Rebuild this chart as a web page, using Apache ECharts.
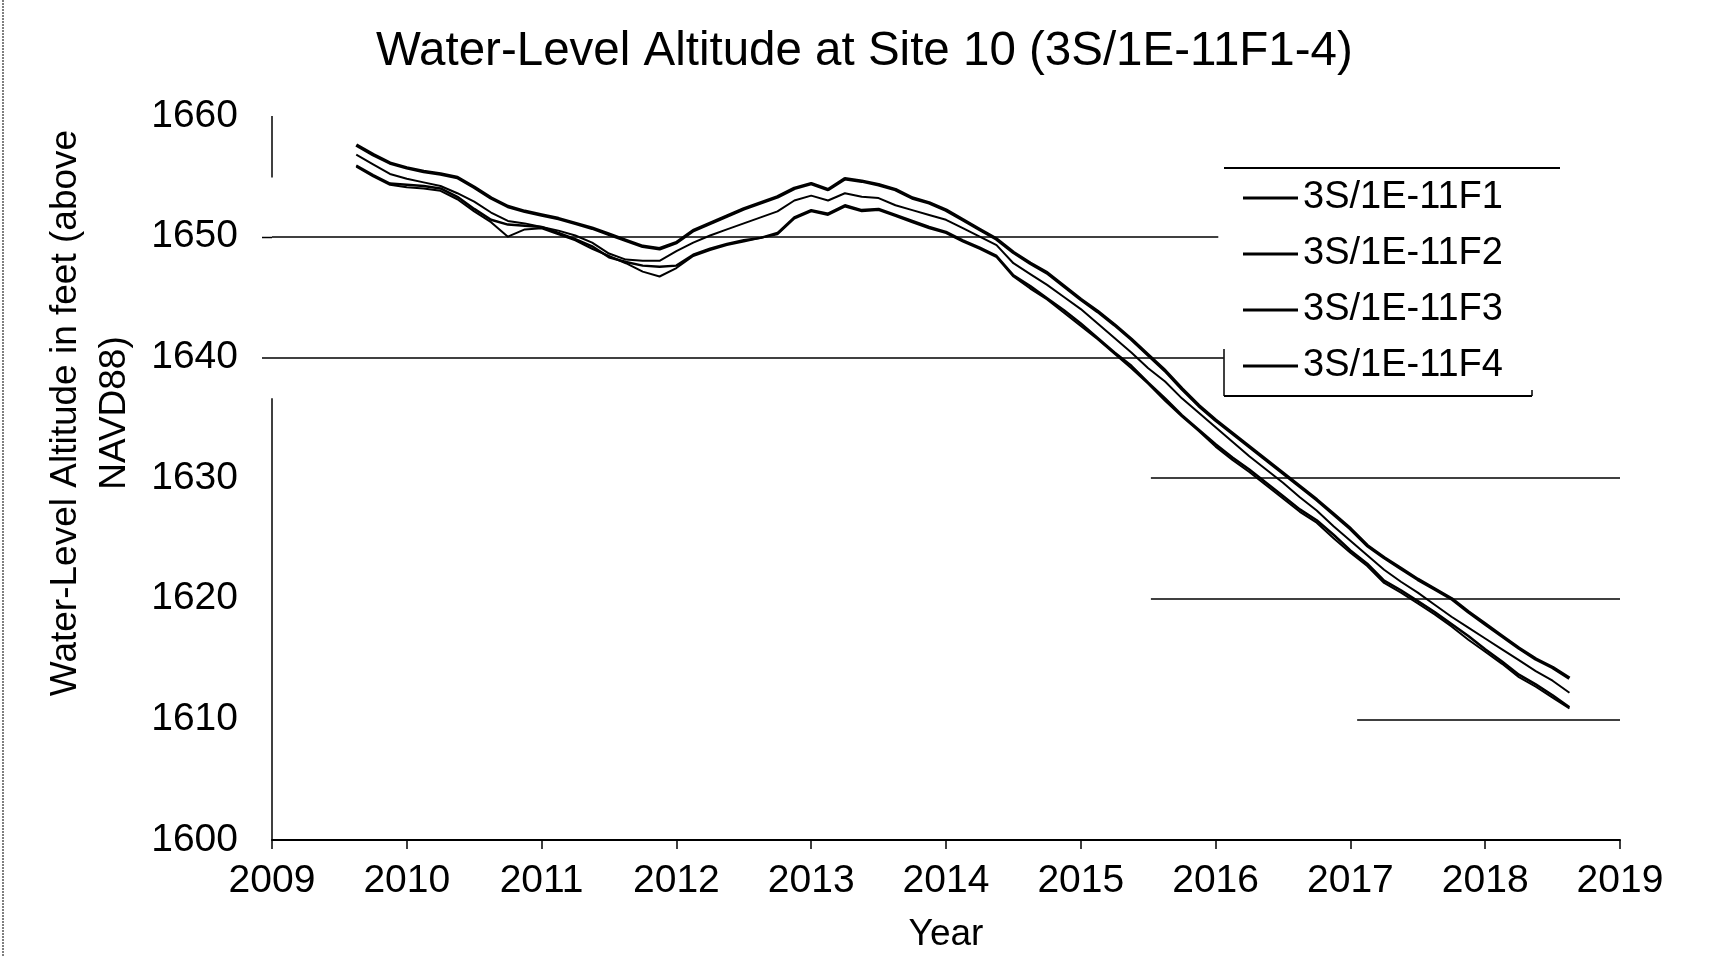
<!DOCTYPE html>
<html>
<head>
<meta charset="utf-8">
<title>Water-Level Altitude at Site 10</title>
<script src="https://cdn.jsdelivr.net/npm/echarts@6.0.0/dist/echarts.min.js"></script>
<style>
    html, body { margin: 0; padding: 0; background: #fff; }
    #chart { width: 1710px; height: 956px; }
</style>
</head>
<body>
<div id="chart"></div>
<script>
// decimal years, one reading every 1.5 months
var years = [2009.625, 2009.75, 2009.875,
    2010.0, 2010.125, 2010.25, 2010.375, 2010.5, 2010.625, 2010.75, 2010.875,
    2011.0, 2011.125, 2011.25, 2011.375, 2011.5, 2011.625, 2011.75, 2011.875,
    2012.0, 2012.125, 2012.25, 2012.375, 2012.5, 2012.625, 2012.75, 2012.875,
    2013.0, 2013.125, 2013.25, 2013.375, 2013.5, 2013.625, 2013.75, 2013.875,
    2014.0, 2014.125, 2014.25, 2014.375, 2014.5, 2014.625, 2014.75, 2014.875,
    2015.0, 2015.125, 2015.25, 2015.375, 2015.5, 2015.625, 2015.75, 2015.875,
    2016.0, 2016.125, 2016.25, 2016.375, 2016.5, 2016.625, 2016.75, 2016.875,
    2017.0, 2017.125, 2017.25, 2017.375, 2017.5, 2017.625, 2017.75, 2017.875,
    2018.0, 2018.125, 2018.25, 2018.375, 2018.5, 2018.625];

var f1 = [1657.6, 1656.8, 1656.1,
    1655.7, 1655.4, 1655.2, 1654.9, 1654.1, 1653.2, 1652.5, 1652.1,
    1651.8, 1651.5, 1651.1, 1650.7, 1650.2, 1649.7, 1649.2, 1649.0,
    1649.5, 1650.5, 1651.1, 1651.7, 1652.3, 1652.8, 1653.3, 1654.0,
    1654.4, 1653.9, 1654.8, 1654.6, 1654.3, 1653.9, 1653.2, 1652.8,
    1652.2, 1651.4, 1650.6, 1649.8, 1648.7, 1647.8, 1647.0, 1645.9,
    1644.8, 1643.8, 1642.7, 1641.5, 1640.2, 1638.9, 1637.4, 1636.0,
    1634.8, 1633.7, 1632.6, 1631.5, 1630.4, 1629.3, 1628.2, 1627.0,
    1625.8, 1624.4, 1623.4, 1622.5, 1621.6, 1620.8, 1620.0, 1618.9,
    1617.9, 1616.9, 1615.9, 1615.0, 1614.3, 1613.4];

var f2 = [1656.8, 1656.0, 1655.2,
    1654.8, 1654.5, 1654.2, 1653.6, 1652.9, 1652.0, 1651.3, 1651.1,
    1650.8, 1650.5, 1650.1, 1649.5, 1648.6, 1648.1, 1648.0, 1648.0,
    1648.8, 1649.5, 1650.1, 1650.6, 1651.1, 1651.6, 1652.1, 1653.0,
    1653.4, 1653.0, 1653.6, 1653.3, 1653.2, 1652.6, 1652.2, 1651.8,
    1651.4, 1650.7, 1650.0, 1649.3, 1647.8, 1646.9, 1646.0, 1645.0,
    1644.0, 1642.8, 1641.6, 1640.4, 1639.1, 1638.0, 1636.6, 1635.4,
    1634.2, 1633.0, 1631.8, 1630.7, 1629.6, 1628.4, 1627.3, 1626.0,
    1624.8, 1623.6, 1622.4, 1621.4, 1620.5, 1619.5, 1618.5, 1617.6,
    1616.7, 1615.8, 1614.9, 1614.0, 1613.2, 1612.2];

var f3 = [1655.9, 1655.1, 1654.4,
    1654.3, 1654.2, 1654.0, 1653.3, 1652.3, 1651.4, 1651.0, 1650.9,
    1650.8, 1650.3, 1649.8, 1649.2, 1648.3, 1647.9, 1647.6, 1647.5,
    1647.6, 1648.5, 1649.0, 1649.4, 1649.7, 1649.9, 1650.3, 1651.6,
    1652.2, 1651.9, 1652.6, 1652.2, 1652.3, 1651.8, 1651.3, 1650.8,
    1650.4, 1649.7, 1649.1, 1648.4, 1646.8, 1645.9, 1644.9, 1643.9,
    1642.8, 1641.6, 1640.4, 1639.3, 1637.9, 1636.6, 1635.2, 1634.0,
    1632.8, 1631.7, 1630.7, 1629.6, 1628.5, 1627.4, 1626.5, 1625.3,
    1624.0, 1622.9, 1621.5, 1620.7, 1619.8, 1618.9, 1617.9, 1616.9,
    1615.8, 1614.8, 1613.7, 1612.9, 1612.0, 1611.0];

var f4 = [1655.8, 1655.0, 1654.3,
    1654.1, 1654.0, 1653.8, 1653.1, 1652.1, 1651.2, 1650.0, 1650.6,
    1650.7, 1650.2, 1649.7, 1649.0, 1648.4, 1647.8, 1647.1, 1646.7,
    1647.4, 1648.4, 1648.9, 1649.3, 1649.6, 1649.9, 1650.2, 1651.5,
    1652.1, 1651.8, 1652.5, 1652.1, 1652.2, 1651.7, 1651.2, 1650.7,
    1650.3, 1649.6, 1649.0, 1648.3, 1646.7, 1645.7, 1644.8, 1643.7,
    1642.6, 1641.5, 1640.3, 1639.1, 1637.8, 1636.4, 1635.1, 1633.9,
    1632.6, 1631.5, 1630.5, 1629.4, 1628.3, 1627.2, 1626.3, 1625.0,
    1623.8, 1622.7, 1621.3, 1620.5, 1619.6, 1618.7, 1617.7, 1616.6,
    1615.6, 1614.6, 1613.5, 1612.7, 1611.8, 1610.9];

var seriesNames = ['3S/1E-11F1', '3S/1E-11F2', '3S/1E-11F3', '3S/1E-11F4'];
var seriesValues = [f1, f2, f3, f4];

// gridlines only survive in pieces on the scan: [value, fromYear, toYear]
var gridRuns = [
    [1650, 2009, 2016.02],
    [1640, 2009, 2016.06],
    [1630, 2015.52, 2019],
    [1620, 2015.52, 2019],
    [1610, 2017.05, 2019]
];
// left axis line pieces: [fromValue, toValue]
var yAxisRuns = [[1660, 1654.9], [1636.6, 1600]];

var font = 'Liberation Sans, Arial, sans-serif';
var lineWidths = [3.5, 2, 2.5, 2];

var chart = echarts.init(document.getElementById('chart'));

var markData = [];
gridRuns.forEach(function (r) {
    markData.push([{coord: [r[1], r[0]]}, {coord: [r[2], r[0]]}]);
});
yAxisRuns.forEach(function (r) {
    markData.push([{coord: [2009, r[0]]}, {coord: [2009, r[1]]}]);
});

var series = [{
    name: 'grid',
    type: 'line',
    data: [],
    clip: false,
    silent: true,
    z: 1,
    markLine: {
        silent: true,
        symbol: 'none',
        label: {show: false},
        lineStyle: {color: '#000', width: 1.5, type: 'solid'},
        emphasis: {disabled: true},
        data: markData
    }
}];
seriesNames.forEach(function (name, k) {
    series.push({
        name: name,
        type: 'line',
        showSymbol: false,
        symbol: 'none',
        smooth: false,
        z: 10 - k,
        lineStyle: {color: '#000', width: lineWidths[k]},
        itemStyle: {color: '#000'},
        data: years.map(function (y, i) {
            return [y, seriesValues[k][i]];
        })
    });
});

var option = {
    animation: false,
    backgroundColor: '#fff',
    title: {
        text: 'Water-Level Altitude at Site 10 (3S/1E-11F1-4)',
        left: 376,
        top: 28,
        padding: 0,
        textStyle: {
            color: '#000',
            fontSize: 47.5,
            fontWeight: 'normal',
            fontFamily: font
        }
    },
    legend: {
        orient: 'vertical',
        left: 1243,
        top: 178,
        padding: 0,
        itemGap: 16,
        itemWidth: 55,
        itemHeight: 3,
        icon: 'rect',
        selectedMode: false,
        textStyle: {
            color: '#000',
            fontSize: 38,
            lineHeight: 40,
            fontFamily: font
        },
        data: seriesNames
    },
    grid: {
        left: 272,
        right: 90,
        top: 116,
        bottom: 116,
        containLabel: false,
        outerBoundsMode: 'none'
    },
    xAxis: {
        type: 'value',
        min: 2009,
        max: 2019,
        interval: 1,
        name: 'Year',
        nameLocation: 'middle',
        nameGap: 76,
        nameTextStyle: {color: '#000', fontSize: 37, fontFamily: font},
        axisLine: {show: true, lineStyle: {color: '#000', width: 2}},
        axisTick: {show: true, inside: false, length: 9, lineStyle: {color: '#000', width: 1.5}},
        axisLabel: {
            color: '#000',
            fontSize: 39,
            fontFamily: font,
            margin: 22,
            showMinLabel: true,
            showMaxLabel: true,
            formatter: function (v) {
                return String(v);
            }
        },
        splitLine: {show: false}
    },
    yAxis: {
        type: 'value',
        min: 1600,
        max: 1660,
        interval: 10,
        axisLine: {show: false},
        axisTick: {show: false},
        axisLabel: {
            color: '#000',
            fontSize: 39,
            fontFamily: font,
            margin: 34,
            formatter: function (v) {
                return String(v);
            }
        },
        splitLine: {show: false}
    },
    graphic: [
        {
            type: 'text',
            x: 90,
            y: 413,
            rotation: Math.PI / 2,
            style: {
                text: 'Water-Level Altitude in feet (above\nNAVD88)',
                fill: '#000',
                font: '37px ' + font,
                lineHeight: 49,
                align: 'center',
                verticalAlign: 'middle'
            }
        },
        // legend frame, only partly visible on the scan
        {type: 'line', shape: {x1: 1224, y1: 168, x2: 1560, y2: 168}, style: {stroke: '#000', lineWidth: 2}},
        {type: 'line', shape: {x1: 1224, y1: 396, x2: 1532, y2: 396}, style: {stroke: '#000', lineWidth: 2}},
        {type: 'line', shape: {x1: 1224, y1: 349, x2: 1224, y2: 396}, style: {stroke: '#000', lineWidth: 1.5}},
        {type: 'line', shape: {x1: 1532, y1: 390, x2: 1532, y2: 396}, style: {stroke: '#000', lineWidth: 1.5}},
        // short stubs left of the axis at 1650 and 1640
        {type: 'line', shape: {x1: 262, y1: 237.5, x2: 272, y2: 237.5}, style: {stroke: '#000', lineWidth: 1.5}},
        {type: 'line', shape: {x1: 262, y1: 358, x2: 272, y2: 358}, style: {stroke: '#000', lineWidth: 1.5}},
        // page edge
        {type: 'line', shape: {x1: 3, y1: 0, x2: 3, y2: 956}, style: {stroke: '#555', lineWidth: 1.5, lineDash: [2, 1]}}
    ],
    series: series
};
chart.setOption(option, true);
</script>
</body>
</html>
